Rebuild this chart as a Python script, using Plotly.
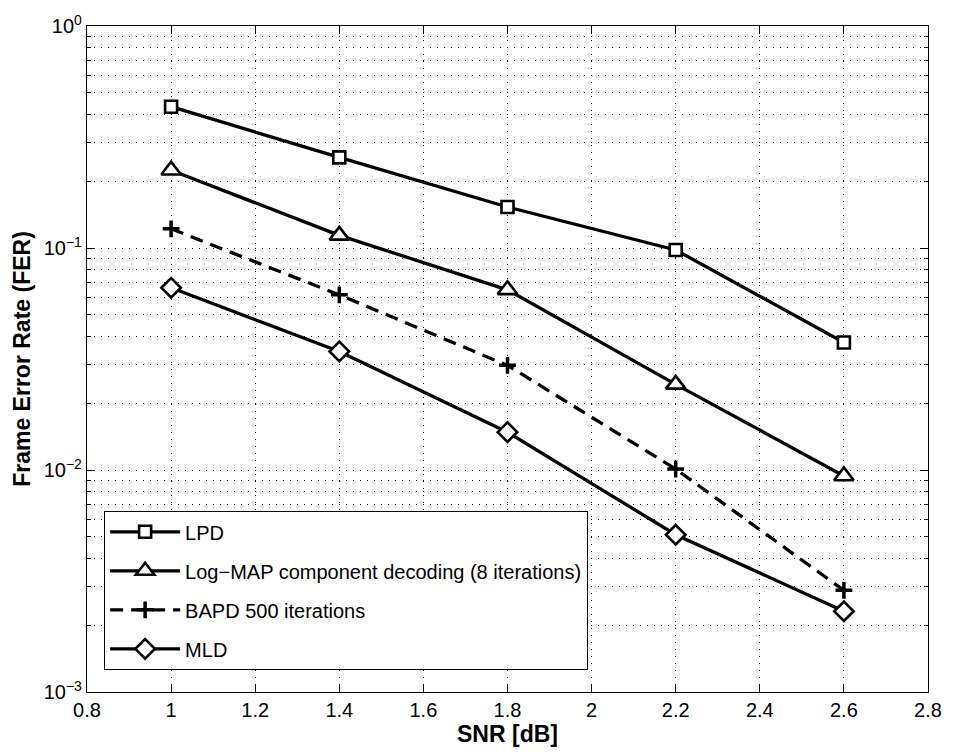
import plotly.graph_objects as go

snr = [1.0, 1.4, 1.8, 2.2, 2.6]
fer_lpd = [0.433, 0.256, 0.153, 0.098, 0.0375]
fer_logmap = [0.224, 0.114, 0.0648, 0.0243, 0.0094]
fer_bapd = [0.122, 0.0615, 0.0296, 0.0101, 0.00287]
fer_mld = [0.0662, 0.0342, 0.0148, 0.00511, 0.00231]

names = ["LPD", "Log\u2212MAP component decoding (8 iterations)", "BAPD 500 iterations", "MLD"]
x_ticks = [0.8, 1, 1.2, 1.4, 1.6, 1.8, 2, 2.2, 2.4, 2.6, 2.8]
x_ticktext = ["0.8", "1", "1.2", "1.4", "1.6", "1.8", "2", "2.2", "2.4", "2.6", "2.8"]
y_ticks = [1e-3, 1e-2, 1e-1, 1e0]
y_ticktext = ["10<sup>\u22123</sup>", "10<sup>\u22122</sup>", "10<sup>\u22121</sup>", "10<sup>0</sup>"]
y_minor = [k * 10 ** d for d in (-3, -2, -1) for k in range(2, 10)]

FONT = "Liberation Sans, Arial, Helvetica, sans-serif"

series = [
    (fer_lpd, "square", 12, "solid"),
    (fer_logmap, "triangle-up", 17, "solid"),
    (fer_bapd, "cross-thin", 12, "13px,8px"),
    (fer_mld, "diamond", 15, "solid"),
]

fig = go.Figure()
for i, ((vals, sym, size, dash), name) in enumerate(zip(series, names)):
    fig.add_trace(go.Scatter(
        x=snr, y=vals, name=name, mode="lines+markers",
        legendgroup=f"g{i}",
        line=dict(color="black", width=3.3, dash=dash),
        marker=dict(symbol=sym, size=size, color="white",
                    line=dict(color="black", width=3.5 if sym == "cross-thin" else 2.6)),
    ))

axis_common = dict(
    showline=True, linecolor="black", linewidth=1.3, mirror="ticks",
    ticks="inside", ticklen=8, tickcolor="black", tickwidth=1,
    showgrid=True, gridcolor="black", gridwidth=1, griddash="1px,6px",
    zeroline=False,
    tickfont=dict(family=FONT, size=20, color="black"),
)

fig.update_xaxes(
    range=[0.8, 2.8], tickvals=x_ticks, ticktext=x_ticktext,
    title=dict(text="<b>SNR [dB]</b>", font=dict(family=FONT, size=23, color="black"), standoff=2),
    **axis_common,
)
fig.update_yaxes(
    type="log", range=[-3, 0], tickvals=y_ticks, ticktext=y_ticktext,
    title=dict(text="<b>Frame Error Rate (FER)</b>", font=dict(family=FONT, size=23, color="black"), standoff=6),
    minor=dict(tickvals=y_minor, ticks="inside", ticklen=4, tickcolor="black",
               showgrid=True, gridcolor="black", gridwidth=1, griddash="1px,6px"),
    **axis_common,
)

fig.update_layout(
    width=954, height=753,
    margin=dict(l=87, r=17, t=23, b=61),
    paper_bgcolor="white", plot_bgcolor="white",
    showlegend=True,
    legend=dict(
        x=0.02, y=0.033, xanchor="left", yanchor="bottom",
        bgcolor="white", bordercolor="black", borderwidth=1.3,
        font=dict(family=FONT, size=20, color="black"),
        itemwidth=70, tracegroupgap=10, traceorder="grouped",
    ),
)

fig.write_html("out.html")
